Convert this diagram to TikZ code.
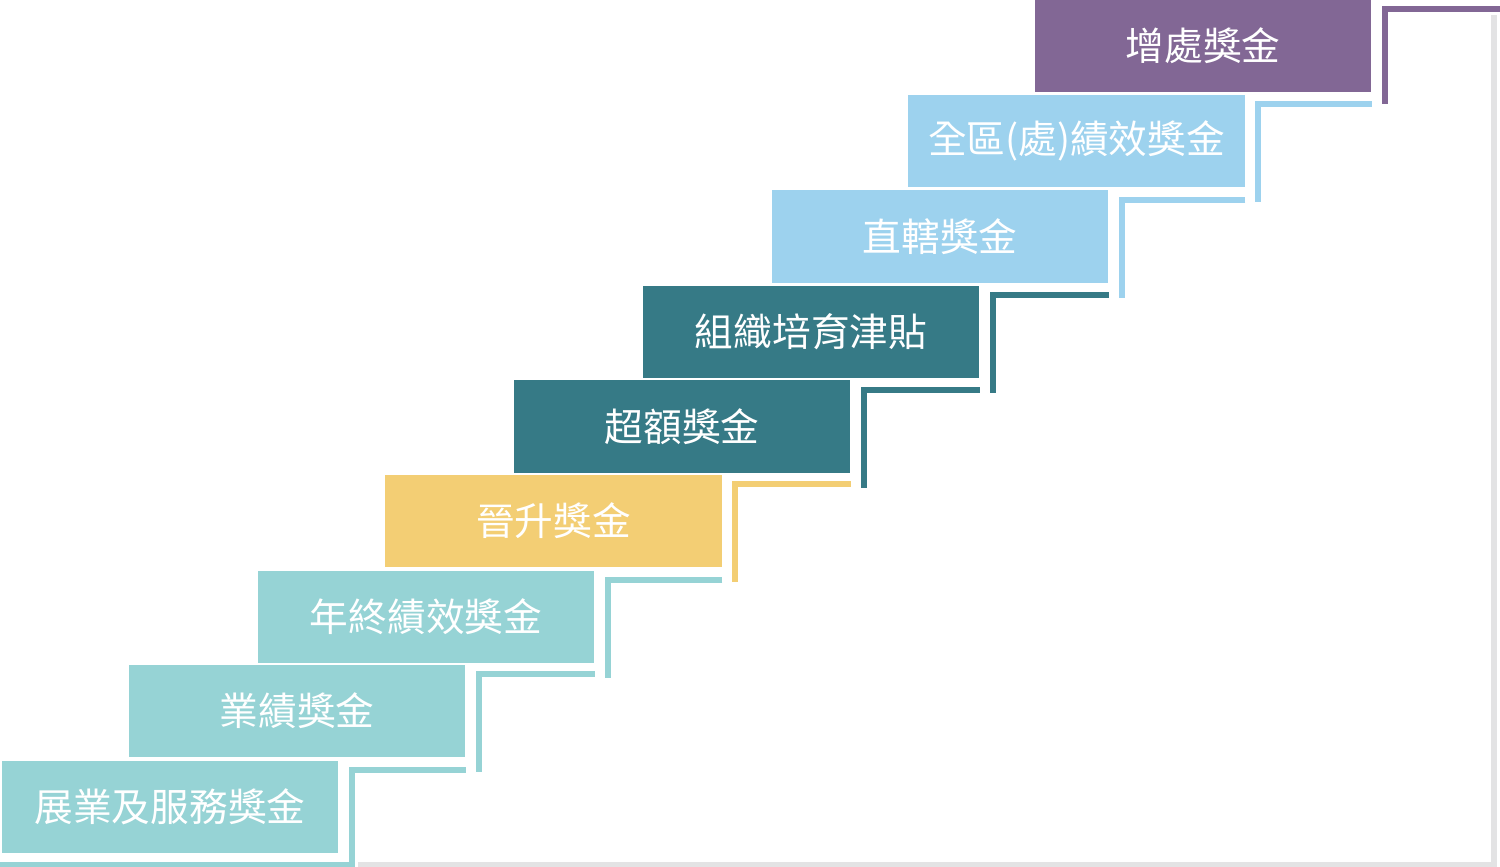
\documentclass[tikz,border=0pt]{standalone}
\usepackage{fontspec}
\newfontfamily\cjkfont{Noto Sans CJK TC}
\usetikzlibrary{calc}
\definecolor{lightteal}{HTML}{96D3D5}
\definecolor{goldyellow}{HTML}{F3CE74}
\definecolor{darkteal}{HTML}{367A86}
\definecolor{lightblue}{HTML}{9DD2EE}
\definecolor{plum}{HTML}{826795}
\definecolor{framegray}{HTML}{E3E3E4}
\tikzset{
  stepbox/.style={fill=#1, text=white, minimum width=3.36cm, minimum height=0.92cm,
    inner sep=0pt, font=\cjkfont\fontsize{11}{13}\selectfont},
  stair/.style={draw=#1, line width=1.7pt},
}

\begin{document}
\begin{tikzpicture}[x=0.01cm, y=-0.01cm]
    \useasboundingbox (0,0) rectangle (1500,867);
    \coordinate (edge) at (1500,0);
    \coordinate (floor) at (0,864.5);
    % Draw the grey frame behind the steps
    \draw[stair=framegray] (358,864.5) -- (1494,864.5) -- (1494,15);

    % Draw the bonus steps
    \foreach \n/\x/\y/\c/\t in {1/170/807/lightteal/展業及服務獎金,
        2/297/711/lightteal/業績獎金, 3/426/617/lightteal/年終績效獎金,
        4/553.5/521/goldyellow/晉升獎金, 5/682/426.5/darkteal/超額獎金,
        6/811/332/darkteal/組織培育津貼, 7/940/236.5/lightblue/直轄獎金,
        8/1076.5/141/lightblue/全區(處)績效獎金, 9/1203/45.5/plum/增處獎金}
        \node[stepbox=\c] (b\n) at (\x,\y) {\t};

    % Corner of each stair line
    \foreach \n in {1,...,9} \coordinate (s\n) at ($(b\n.north east)+(13,10)$);

    % Draw the stair lines
    \draw[stair=lightteal] (b2.north east |- s1) -- (s1) -- (s1 |- floor) -- (floor);
    \foreach \i/\j/\c in {2/3/lightteal, 3/4/lightteal, 4/5/goldyellow, 5/6/darkteal,
        6/7/darkteal, 7/8/lightblue, 8/9/lightblue}
        \draw[stair=\c] (b\j.north east |- s\i) -- (s\i) -- ++(0,98);
    \draw[stair=plum] (edge |- s9) -- (s9) -- ++(0,95);
\end{tikzpicture}
\end{document}
